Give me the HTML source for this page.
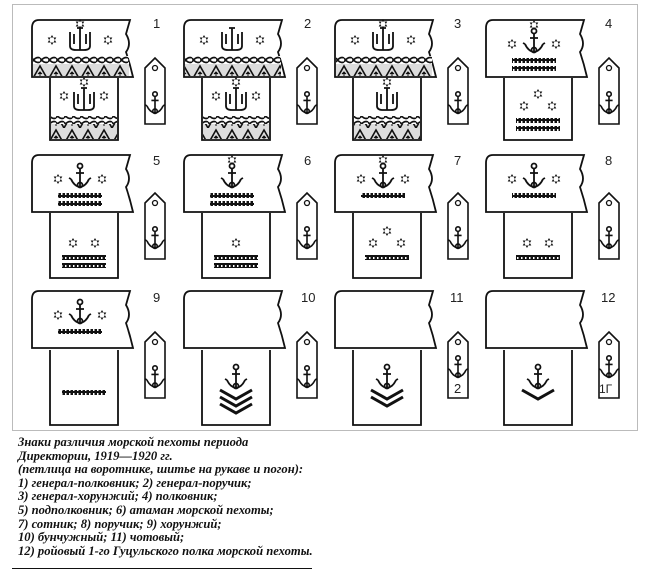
<!DOCTYPE html>
<html><head><meta charset="utf-8"><style>
body{margin:0;background:#fff;width:650px;height:580px;overflow:hidden;position:relative}
#frame{position:absolute;left:12px;top:4px;width:626px;height:427px;border:1px solid #bbb;box-sizing:border-box}
#cap{position:absolute;left:18px;top:436px;font-family:"Liberation Serif",serif;font-style:italic;font-weight:bold;font-size:12.6px;line-height:13.6px;color:#111;white-space:nowrap}
#rule{position:absolute;left:12px;top:568px;width:300px;height:1px;background:#111}
svg{position:absolute;left:0;top:0}
</style></head><body>
<div id="frame"></div>
<svg id="s" width="650" height="440" viewBox="0 0 650 440">
<defs>
<pattern id="braid" width="8" height="8" patternUnits="userSpaceOnUse"><rect width="8" height="8" fill="#fff"/><path d="M0,6 Q4,0 8,2 M0,2 Q4,8 8,6" stroke="#111" stroke-width="1.6" fill="none"/></pattern>
<pattern id="tri" width="16" height="16" patternUnits="userSpaceOnUse"><rect width="16" height="16" fill="#ddd"/><path d="M0,16 L8,2 L16,16" stroke="#111" stroke-width="1.6" fill="none"/><path d="M8,14 V8 M6,10 L8,8 L10,10" stroke="#111" stroke-width="1"/></pattern>
<pattern id="bar" width="4" height="4" patternUnits="userSpaceOnUse"><rect width="4" height="4" fill="#111"/><rect x="1" y="1" width="1.5" height="2" fill="#fff"/></pattern>
<g id="anc" fill="none" stroke="#111" stroke-width="1.8"><circle cx="0" cy="-11" r="2.5"/><path d="M0,-9 V9 M-4,-4 H4 M-9,2 Q-6,9 0,10 Q6,9 9,2 M-9,2 l-2,-1 M9,2 l2,-1"/><circle cx="0" cy="8" r="2.5"/></g>
<g id="star"><path d="M0,-5 L4.3,2.5 H-4.3Z M0,5 L4.3,-2.5 H-4.3Z" fill="#111"/></g>
<g id="trd" fill="none" stroke="#111" stroke-width="1.8"><path d="M0,-12 V10 M-10,-8 V6 Q-10,10 -4,10 H4 Q10,10 10,6 V-8 M-6,-6 V4 M6,-6 V4 M-3,-12 H3"/></g>
</defs>
<g id="g"></g>
<g font-family="Liberation Sans,sans-serif" font-size="13" fill="#222">
<text x="153" y="28">1</text><text x="304" y="28">2</text><text x="454" y="28">3</text><text x="605" y="28">4</text>
<text x="153" y="165">5</text><text x="304" y="165">6</text><text x="454" y="165">7</text><text x="605" y="165">8</text>
<text x="153" y="302">9</text><text x="301" y="302">10</text><text x="450" y="302">11</text><text x="601" y="302">12</text>
<text x="454" y="393" font-size="13">2</text><text x="599" y="393" font-size="12">1Г</text>
</g>
</svg>
<div id="cap">Знаки различия морской пехоты периода<br>Директории, 1919—1920 гг.<br>(петлица на воротнике, шитье на рукаве и погон):<br>1) генерал-полковник; 2) генерал-поручик;<br>3) генерал-хорунжий; 4) полковник;<br>5) подполковник; 6) атаман морской пехоты;<br>7) сотник; 8) поручик; 9) хорунжий;<br>10) бунчужный; 11) чотовый;<br>12) ройовый 1-го Гуцульского полка морской пехоты.</div>
<div id="rule"></div>
<script>
var X=[32,184,335,486],TY=[20,155,291],SY=[[78,140],[213,278],[350,425]],BY=[58,193,332];
var h='';
function u(id,x,y,s){return '<use href="#'+id+'" transform="translate('+x+','+y+')'+(s?' scale('+s+')':'')+'"/>';}
function bar(x,y,w){return '<rect x="'+x+'" y="'+y+'" width="'+w+'" height="5" fill="url(#bar)"/>';}
for(var r=0;r<3;r++)for(var c=0;c<4;c++){
 var x=X[c],y=TY[r],i=r*4+c,cx=x+48,sx=x+18,sw=68,sc=sx+34,y1=SY[r][0],y2=SY[r][1];
 h+='<path d="M'+sx+','+y1+' V'+y2+' H'+(sx+sw)+' V'+y1+'" fill="none" stroke="#111" stroke-width="1.8"/>';
 h+='<path d="M'+(x+7)+','+y+' H'+(x+98)+' L'+(x+94)+','+(y+14)+' Q'+(x+100)+','+(y+24)+' '+(x+94)+','+(y+32)+' Q'+(x+98)+','+(y+44)+' '+(x+101)+','+(y+57)+' H'+x+' V'+(y+8)+' Q'+x+','+y+' '+(x+7)+','+y+' Z" fill="#fff" stroke="#111" stroke-width="1.8"/>';
 var bx=x+113,by=BY[r];
 h+='<path d="M'+bx+','+(by+10)+' L'+(bx+10)+','+by+' L'+(bx+20)+','+(by+10)+' V'+(by+66)+' H'+bx+' Z" fill="#fff" stroke="#111" stroke-width="1.6"/><circle cx="'+(bx+10)+'" cy="'+(by+10)+'" r="2.5" fill="none" stroke="#111" stroke-width="1.3"/>';
 h+=u('anc',bx+10,by+(i>=10?36:46),0.9);
 if(r==0&&c<3){
  h+='<rect x="'+(x+1)+'" y="'+(y+36)+'" width="'+96+'" height="8" fill="url(#braid)"/><rect x="'+(x+1)+'" y="'+(y+44)+'" width="96" height="12" fill="url(#tri)"/>';
  h+=u('trd',cx,y+20);h+=u('star',cx-28,y+20);h+=u('star',cx+28,y+20);if(c!=1)h+=u('star',cx,y+4);
  h+='<rect x="'+(sx+1)+'" y="'+(y1+38)+'" width="'+(sw-2)+'" height="8" fill="url(#braid)"/><rect x="'+(sx+1)+'" y="'+(y1+46)+'" width="'+(sw-2)+'" height="15" fill="url(#tri)"/>';
  h+=u('trd',sc,y1+22);if(c!=2){h+=u('star',sc-20,y1+18);h+=u('star',sc+20,y1+18);}h+=u('star',sc,y1+4);
 } else if(i<9){
  h+=u('anc',cx,y+22);
  if(i==3||i==5||i==6)h+=u('star',cx,y+5);
  if(i!=5)h+=u('star',cx-22,y+24),h+=u('star',cx+22,y+24);
  h+=bar(cx-22,y+38,44);if(i==3||i==4||i==5)h+=bar(cx-22,y+46,44);
  var two=(i==3||i==4||i==5),by2=y1+(r==1?42:40);
  h+=bar(sc-22,by2,44);if(two)h+=bar(sc-22,by2+8,44);
  if(i==4||i==7){h+=u('star',sc-11,by2-12);h+=u('star',sc+11,by2-12);}
  else if(i==5){h+=u('star',sc,by2-12);}
  else if(i==3||i==6){h+=u('star',sc,by2-24);h+=u('star',sc-14,by2-12);h+=u('star',sc+14,by2-12);}
 } else if(i==8){
  h+=u('anc',cx,y+22);h+=u('star',cx,y+5);h+=bar(cx-10,y+40,20);
  h+='<rect x="'+(sc-11)+'" y="'+(y1+42)+'" width="22" height="4" fill="#111"/>';h+=u('star',sc,y1+34);
 } else {
  h+=u('anc',sc,y1+28);
  var n=i==9?3:(i==10?2:1);
  for(var k=0;k<n;k++){var yy=y1+40+k*7;h+='<path d="M'+(sc-16)+','+yy+' L'+sc+','+(yy+9)+' L'+(sc+16)+','+yy+'" fill="none" stroke="#111" stroke-width="3"/>';}
 }
}
document.getElementById('g').innerHTML=h;
</script>
</body></html>
